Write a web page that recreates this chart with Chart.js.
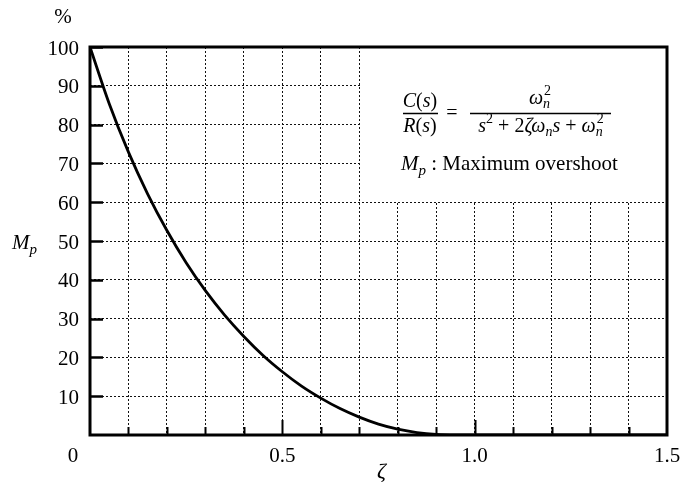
<!DOCTYPE html>
<html><head><meta charset="utf-8">
<script src="https://cdn.jsdelivr.net/npm/chart.js@4/dist/chart.umd.min.js"></script>
<style>html,body{margin:0;padding:0;background:#fff}#wrap{width:683px;height:487px}</style>
</head><body><div id="wrap"><canvas id="c" width="683" height="487"></canvas></div>
<script>
// Damping ratio (zeta) and maximum overshoot Mp (%)
const zeta = [0, 0.05, 0.1, 0.15, 0.2, 0.25, 0.3, 0.35, 0.4, 0.45, 0.5, 0.55, 0.6, 0.65, 0.7, 0.75, 0.8, 0.85, 0.9, 0.95, 1.0, 1.5];
const overshoot = [100, 85.4, 72.9, 62.1, 52.7, 44.4, 37.2, 30.9, 25.4, 20.5, 16.3, 12.6, 9.5, 6.8, 4.6, 2.8, 1.5, 0.63, 0.15, 0.01, 0, 0];
const xTickValues = [0, 0.5, 1.0, 1.5];
const xTickLabels = ['0', '0.5', '1.0', '1.5'];
const yTickValues = [10, 20, 30, 40, 50, 60, 70, 80, 90, 100];
const yTickLabels = ['10', '20', '30', '40', '50', '60', '70', '80', '90', '100'];
const xTitle = 'ζ';
const yUnit = '%';

const SERIF = '"Liberation Serif", "DejaVu Serif", serif';
const FS = 21;
const FF = 20;

function font(italic, size) {
  return (italic ? 'italic ' : '') + size + 'px ' + SERIF;
}
function runWidth(ctx, run) {
  let w = 0;
  for (const r of run) {
    if (r.sup !== undefined) {
      ctx.font = font(false, r.s);
      const a = ctx.measureText(r.sup).width;
      ctx.font = font(true, r.s);
      const b = ctx.measureText(r.sub).width;
      w += Math.max(a, b) + 1;
    } else {
      ctx.font = font(r.i, r.s || FF);
      w += ctx.measureText(r.t).width;
    }
  }
  return w;
}
function drawRun(ctx, run, x, y, align) {
  const w = runWidth(ctx, run);
  let cx = align === 'center' ? x - w / 2 : x;
  ctx.textAlign = 'left';
  ctx.textBaseline = 'alphabetic';
  for (const r of run) {
    if (r.sup !== undefined) {
      ctx.font = font(false, r.s);
      const a = ctx.measureText(r.sup).width;
      ctx.fillText(r.sup, cx + 1, y - 9);
      ctx.font = font(true, r.s);
      const b = ctx.measureText(r.sub).width;
      ctx.fillText(r.sub, cx, y + 4);
      cx += Math.max(a, b) + 1;
    } else {
      ctx.font = font(r.i, r.s || FF);
      ctx.fillText(r.t, cx, y + (r.dy || 0));
      cx += ctx.measureText(r.t).width;
    }
  }
  return w;
}

const decor = {
  id: 'decor',
  afterDatasetsDraw(chart) {
    const ctx = chart.ctx;
    const xs = chart.scales.x, ys = chart.scales.y;
    const L = xs.left, R = xs.right, T = ys.top, B = ys.bottom;
    ctx.save();
    // white legend box covering grid (from zeta=0.7 to right, above Mp=60)
    const bx = xs.getPixelForValue(0.7) + 1;
    const by = ys.getPixelForValue(60) - 1;
    ctx.fillStyle = '#fff';
    ctx.fillRect(bx, T, R - bx, by - T);

    ctx.fillStyle = '#000';
    ctx.strokeStyle = '#000';
    // inner ticks, left axis
    ctx.lineWidth = 2.5;
    for (const v of yTickValues) {
      const py = Math.round(ys.getPixelForValue(v)) + 0.5;
      ctx.beginPath(); ctx.moveTo(L, py); ctx.lineTo(L + 13, py); ctx.stroke();
    }
    // inner ticks, bottom axis
    ctx.lineWidth = 2;
    for (let k = 1; k < 15; k++) {
      const px = Math.round(xs.getPixelForValue(k / 10)) + 0.5;
      const len = (k % 5 === 0) ? 15 : 8;
      ctx.beginPath(); ctx.moveTo(px, B); ctx.lineTo(px, B - len); ctx.stroke();
    }
    // frame
    ctx.lineWidth = 3;
    ctx.strokeRect(L, T, R - L, B - T);

    // y tick labels
    ctx.font = font(false, FS);
    ctx.textAlign = 'right';
    ctx.textBaseline = 'middle';
    yTickValues.forEach((v, i) => {
      ctx.fillText(yTickLabels[i], L - 11, ys.getPixelForValue(v) + 2);
    });
    // x tick labels
    ctx.textAlign = 'center';
    ctx.textBaseline = 'alphabetic';
    xTickValues.forEach((v, i) => {
      let px = xs.getPixelForValue(v);
      if (v === 0) px -= 17;
      ctx.fillText(xTickLabels[i], px, 462);
    });
    // axis titles
    ctx.font = font(true, 22);
    ctx.fillText(xTitle, (L + R) / 2 + 3, 478);
    ctx.font = font(false, FS);
    ctx.fillText(yUnit, 63, 23);
    drawRun(ctx, [{t: 'M', i: true, s: 21}, {t: 'p', i: true, s: 15, dy: 5}], 12, 249, 'left');

    // formula
    const num1 = [{t: 'C', i: true}, {t: '(', i: false}, {t: 's', i: true}, {t: ')', i: false}];
    const den1 = [{t: 'R', i: true}, {t: '(', i: false}, {t: 's', i: true}, {t: ')', i: false}];
    drawRun(ctx, num1, 420, 107, 'center');
    drawRun(ctx, den1, 420, 132, 'center');
    ctx.lineWidth = 1.3;
    ctx.beginPath(); ctx.moveTo(403, 113.5); ctx.lineTo(438, 113.5); ctx.stroke();
    ctx.font = font(false, FF);
    ctx.textAlign = 'center';
    ctx.fillText('=', 452, 119);
    const num2 = [{t: 'ω', i: true}, {sup: '2', sub: 'n', s: 14}];
    const den2 = [{t: 's', i: true}, {t: '2', i: false, s: 14, dy: -9}, {t: ' + 2', i: false},
                  {t: 'ζω', i: true}, {t: 'n', i: true, s: 14, dy: 4}, {t: 's', i: true},
                  {t: ' + ', i: false}, {t: 'ω', i: true}, {sup: '2', sub: 'n', s: 14}];
    drawRun(ctx, num2, 540, 104, 'center');
    drawRun(ctx, den2, 541, 132, 'center');
    ctx.beginPath(); ctx.moveTo(470, 113.5); ctx.lineTo(611, 113.5); ctx.stroke();
    drawRun(ctx, [{t: 'M', i: true, s: 21}, {t: 'p', i: true, s: 15, dy: 5}, {t: ' : Maximum overshoot', i: false, s: 21}], 401, 170, 'left');
    ctx.restore();
  }
};

new Chart(document.getElementById('c'), {
  type: 'line',
  data: {
    datasets: [{
      data: zeta.map((z, i) => ({x: z, y: overshoot[i]})),
      borderColor: '#000',
      borderWidth: 2.8,
      pointRadius: 0,
      fill: false,
      cubicInterpolationMode: 'monotone'
    }]
  },
  options: {
    responsive: false,
    animation: false,
    devicePixelRatio: 1,
    layout: {padding: {left: 90, top: 47, right: 16, bottom: 52}},
    plugins: {legend: {display: false}, tooltip: {enabled: false}},
    scales: {
      x: {
        type: 'linear', min: 0, max: 1.5,
        ticks: {display: false, stepSize: 0.1},
        grid: {color: '#111', lineWidth: 1, drawTicks: false},
        border: {display: false, dash: [2, 2]}
      },
      y: {
        min: 0, max: 100,
        ticks: {display: false, stepSize: 10},
        grid: {color: '#111', lineWidth: 1, drawTicks: false},
        border: {display: false, dash: [2, 2]}
      }
    }
  },
  plugins: [decor]
});
</script>
</body></html>
